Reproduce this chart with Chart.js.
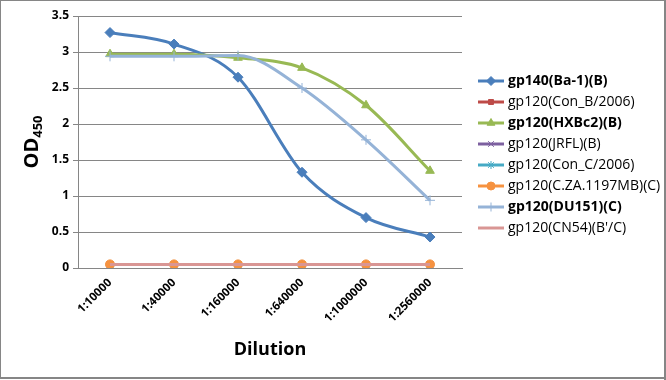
<!DOCTYPE html>
<html>
<head>
<meta charset="utf-8">
<script src="https://cdn.jsdelivr.net/npm/chart.js@4/dist/chart.umd.min.js"></script>
<style>
  html, body { margin: 0; padding: 0; background: #fff; }
  #wrap { width: 666px; height: 380px; position: relative; }
</style>
</head>
<body>
<div id="wrap"><canvas id="odChart" width="666" height="380"></canvas></div>
<script>
const dilutions = ["1:10000", "1:40000", "1:160000", "1:640000", "1:1000000", "1:2560000"];

const gp140Ba1 = [3.27, 3.11, 2.65, 1.33, 0.70, 0.43];
const gp120ConB = [0.05, 0.05, 0.05, 0.05, 0.05, 0.05];
const gp120HXBc2 = [2.97, 2.97, 2.92, 2.78, 2.26, 1.35];
const gp120JRFL = [0.05, 0.05, 0.05, 0.05, 0.05, 0.05];
const gp120ConC = [0.05, 0.05, 0.05, 0.05, 0.05, 0.05];
const gp120CZA = [0.05, 0.05, 0.05, 0.05, 0.05, 0.05];
const gp120DU151 = [2.94, 2.94, 2.95, 2.50, 1.78, 0.94];
const gp120CN54 = [0.05, 0.05, 0.05, 0.05, 0.05, 0.05];

const yTicks = [0, 0.5, 1, 1.5, 2, 2.5, 3, 3.5];

const FONT = "'Open Sans', 'DejaVu Sans', sans-serif";

let seriesCount = 0;

function series(label, data, color, style, bold, radius) {
    return {
        label: label,
        data: data,
        borderColor: color,
        backgroundColor: color,
        pointBackgroundColor: color,
        pointBorderColor: color,
        borderWidth: 3,
        pointStyle: style,
        pointRadius: radius,
        pointBorderWidth: 1,
        tension: 0.4,
        cubicInterpolationMode: 'monotone',
        order: -(seriesCount++), // later series on top, like Excel
        bold: bold
    };
}

const datasets = [
    series("gp140(Ba-1)(B)", gp140Ba1, "#4A7EBB", "rectRot", true, 5),
    series("gp120(Con_B/2006)", gp120ConB, "#BE4B48", "rect", false, 4),
    series("gp120(HXBc2)(B)", gp120HXBc2, "#98B954", "triangle", true, 5),
    series("gp120(JRFL)(B)", gp120JRFL, "#7D60A0", "crossRot", false, 4.5),
    series("gp120(Con_C/2006)", gp120ConC, "#46AAC5", "star", false, 4.5),
    series("gp120(C.ZA.1197MB)(C)", gp120CZA, "#F69240", "circle", false, 4.5),
    series("gp120(DU151)(C)", gp120DU151, "#95B3D7", "cross", true, 5),
    series("gp120(CN54)(B'/C)", gp120CN54, "#D99694", "line", false, 0)
];

// legend with bold items, axis titles with subscript, outer frame
const extras = {
    id: 'extras',
    afterDraw(chart) {
        const ctx = chart.ctx;
        ctx.save();

        // frame
        ctx.strokeStyle = "#868686";
        ctx.lineWidth = 1;
        ctx.beginPath();
        ctx.moveTo(0.5, 0.5); ctx.lineTo(0.5, 379);
        ctx.stroke();
        ctx.beginPath();
        ctx.moveTo(0, 0.5); ctx.lineTo(666, 0.5);
        ctx.stroke();
        ctx.lineWidth = 2;
        ctx.beginPath();
        ctx.moveTo(665, 0); ctx.lineTo(665, 380);
        ctx.moveTo(0, 378); ctx.lineTo(666, 378);
        ctx.stroke();

        // x title
        const area = chart.chartArea;
        ctx.fillStyle = "#000";
        ctx.font = "bold 18px " + FONT;
        ctx.textAlign = "center";
        ctx.textBaseline = "middle";
        ctx.fillText("Dilution", (area.left + area.right) / 2, 350);

        // y title OD450
        ctx.translate(32, 142);
        ctx.rotate(-Math.PI / 2);
        ctx.font = "bold 20px " + FONT;
        const w1 = ctx.measureText("OD").width;
        ctx.font = "bold 13px " + FONT;
        const w2 = ctx.measureText("450").width;
        const start = -(w1 + w2) / 2;
        ctx.textAlign = "left";
        ctx.font = "bold 20px " + FONT;
        ctx.fillText("OD", start, 0);
        ctx.font = "bold 13px " + FONT;
        ctx.fillText("450", start + w1, 6);
        ctx.setTransform(1, 0, 0, 1, 0, 0);

        // legend
        chart.data.datasets.forEach((ds, i) => {
            const y = 81 + i * 21;
            const x0 = 478, x1 = 504;
            ctx.strokeStyle = ds.borderColor;
            ctx.lineWidth = 3;
            ctx.beginPath();
            ctx.moveTo(x0, y); ctx.lineTo(x1, y);
            ctx.stroke();
            if (ds.pointRadius > 0) {
                ctx.fillStyle = ds.borderColor;
                ctx.strokeStyle = ds.borderColor;
                ctx.lineWidth = 1;
                Chart.helpers.drawPoint(ctx, {
                    pointStyle: ds.pointStyle,
                    radius: ds.pointRadius - 0.5,
                    borderWidth: 1
                }, (x0 + x1) / 2, y);
            }
            ctx.fillStyle = "#000";
            ctx.font = (ds.bold ? "bold " : "") + "14px " + FONT;
            ctx.textAlign = "left";
            ctx.textBaseline = "middle";
            ctx.fillText(ds.label, 508, y);
        });
        ctx.restore();
    }
};

new Chart(document.getElementById('odChart'), {
    type: 'line',
    data: {
        labels: dilutions,
        datasets: datasets
    },
    options: {
        responsive: false,
        animation: false,
        layout: {
            padding: { left: 0, right: 204, top: 16, bottom: 0 }
        },
        plugins: {
            legend: { display: false },
            tooltip: { enabled: false }
        },
        scales: {
            x: {
                offset: true,
                grid: { display: false, drawTicks: false },
                border: { color: "#868686", width: 1 },
                ticks: {
                    color: "#000",
                    maxRotation: 45,
                    minRotation: 45,
                    padding: 8,
                    font: { family: FONT, size: 11.5, weight: 'bold' }
                },
                afterFit(scale) { scale.height = 112; }
            },
            y: {
                min: 0,
                max: 3.5,
                afterBuildTicks(scale) {
                    scale.ticks = yTicks.map(v => ({ value: v }));
                },
                grid: {
                    color: "#868686",
                    lineWidth: 1,
                    tickLength: 5
                },
                border: { color: "#868686", width: 1 },
                ticks: {
                    color: "#000",
                    padding: 4,
                    font: { family: FONT, size: 12, weight: 'bold' },
                    callback: v => String(v)
                },
                afterFit(scale) { scale.width = 78; }
            }
        }
    },
    plugins: [extras]
});
</script>
</body>
</html>
